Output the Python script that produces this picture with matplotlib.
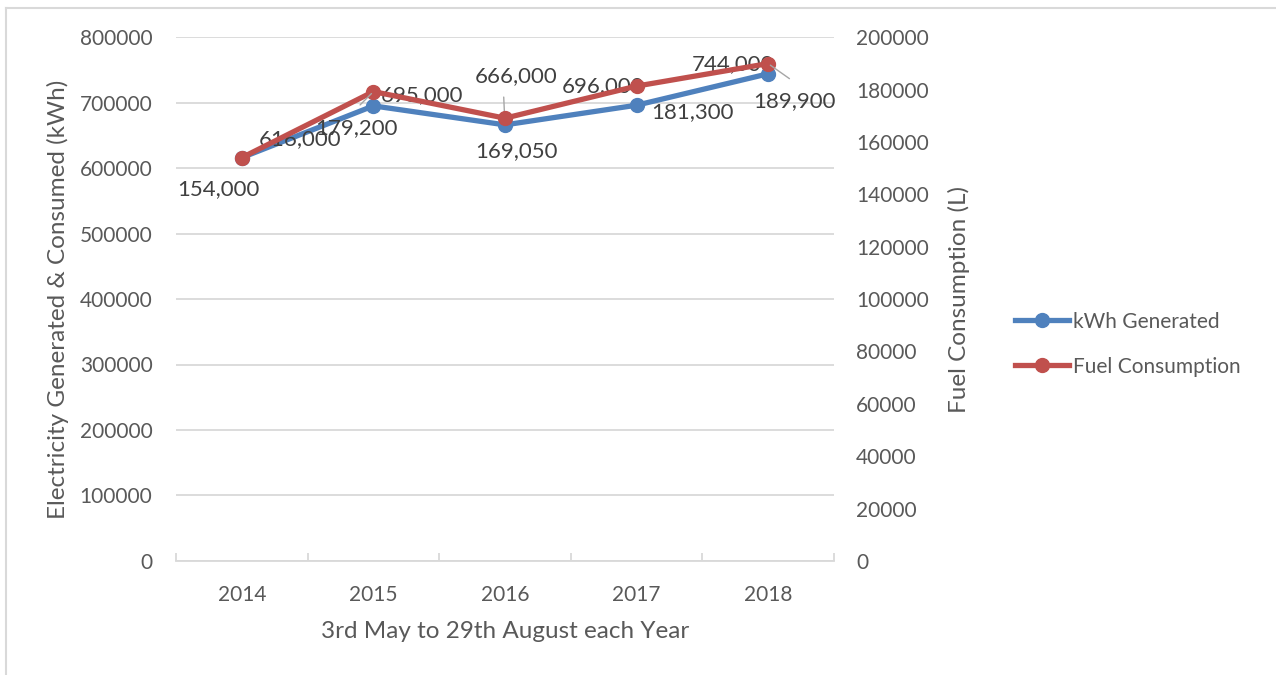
import matplotlib.pyplot as plt
from matplotlib.lines import Line2D

years = ['2014', '2015', '2016', '2017', '2018']
kwh_generated = [616000, 695000, 666000, 696000, 744000]
fuel_consumption = [154000, 179200, 169050, 181300, 189900]

# label offsets from the point, in points (x right, y up)
kwh_offsets = [(42, 13), (35, 8), (8, 35), (-24, 14), (-25, 7)]
fuel_offsets = [(-17, -23), (-12, -26), (8, -24), (40, -19), (19, -27)]

blue = '#4f81bd'
red = '#c0504d'
txt = '#595959'
grid = '#d9d9d9'

plt.rcParams['font.family'] = ['Lato', 'DejaVu Sans']

fig = plt.figure(figsize=(12.76, 6.75), dpi=100)
ax = fig.add_axes([0.138, 0.169, 0.5155, 0.776])
ax2 = ax.twinx()

x = list(range(len(years)))

ax.plot(x, kwh_generated, color=blue, lw=3.8, marker='o', ms=10, zorder=3)
ax2.plot(x, fuel_consumption, color=red, lw=3.8, marker='o', ms=10, zorder=3)

ax.set_ylim(0, 800000)
ax2.set_ylim(0, 200000)
ax.set_xlim(-0.5, 4.5)
ax.set_yticks(range(0, 800001, 100000))
ax2.set_yticks(range(0, 200001, 20000))
ax.set_xticks(x)
ax.set_xticklabels(years)
ax.set_xticks([i - 0.5 for i in range(len(years) + 1)], minor=True)

ax.yaxis.grid(True, color=grid, lw=1.3)
ax.set_axisbelow(True)
for a in (ax, ax2):
    for s in ['top', 'left', 'right']:
        a.spines[s].set_visible(False)
ax.spines['bottom'].set_color(grid)
ax.spines['bottom'].set_linewidth(1.3)
ax2.spines['bottom'].set_visible(False)

ax.tick_params(axis='y', length=0, labelsize=15, colors=txt, pad=17)
ax2.tick_params(axis='y', length=0, labelsize=15, colors=txt, pad=16)
ax.tick_params(axis='x', which='major', length=0, labelsize=15, colors=txt, pad=17)
ax.tick_params(axis='x', which='minor', direction='in', length=6, color=grid, width=1.3)

ax.set_ylabel('Electricity Generated & Consumed (kWh)', fontsize=17.5, color=txt, labelpad=8)
ax2.set_ylabel('Fuel Consumption (L)', fontsize=17.5, color=txt, labelpad=14)
ax.set_xlabel('3rd May to 29th August each Year', fontsize=17.5, color=txt, labelpad=12)

for i, v in enumerate(kwh_generated):
    ax.annotate(f'{v:,}', (i, v), xytext=kwh_offsets[i], textcoords='offset points',
                ha='center', va='center', fontsize=16, color='#404040', zorder=4)
for i, v in enumerate(fuel_consumption):
    ax2.annotate(f'{v:,}', (i, v), xytext=fuel_offsets[i], textcoords='offset points',
                 ha='center', va='center', fontsize=16, color='#404040', zorder=4)

# small leader lines like in the original
ax2.annotate('', (1, fuel_consumption[1]), xytext=(-11, -11), textcoords='offset points',
             arrowprops=dict(arrowstyle='-', color='#a6a6a6', lw=1))
ax.annotate('', (2, kwh_generated[2]), xytext=(-1, 22), textcoords='offset points',
            arrowprops=dict(arrowstyle='-', color='#a6a6a6', lw=1))
ax2.annotate('', (4, fuel_consumption[4]), xytext=(17, -12), textcoords='offset points',
             arrowprops=dict(arrowstyle='-', color='#a6a6a6', lw=1))

handles = [Line2D([], [], color=blue, lw=3.8, marker='o', ms=10),
           Line2D([], [], color=red, lw=3.8, marker='o', ms=10)]
fig.legend(handles, ['kWh Generated', 'Fuel Consumption'], loc='center left',
           bbox_to_anchor=(0.781, 0.49), frameon=False, fontsize=15, labelcolor=txt,
           handlelength=2.6, handletextpad=0.15, labelspacing=1.2)

# chart area border
fig.add_artist(Line2D([6 / 1276, 1], [1 - 8 / 675, 1 - 8 / 675], color=grid, lw=1.5))
fig.add_artist(Line2D([6 / 1276, 6 / 1276], [0, 1 - 8 / 675], color=grid, lw=1.5))

fig.savefig('out.png', dpi=100, facecolor='white')
